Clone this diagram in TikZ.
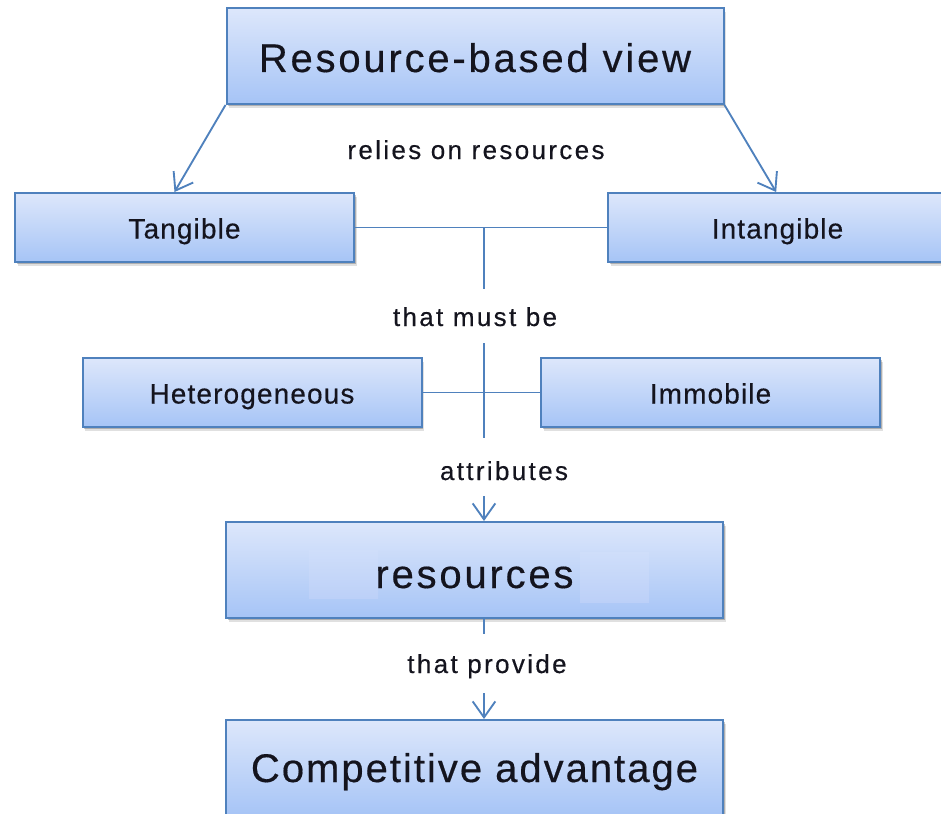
\documentclass[tikz,border=0pt]{standalone}
\usepackage{fontspec}
\setmainfont{Liberation Sans}
\newfontfamily\bigfont[LetterSpace=7,FakeBold=0.4]{Liberation Sans}
\newfontfamily\compfont[LetterSpace=5,FakeBold=0.4]{Liberation Sans}
\newfontfamily\boxfont[LetterSpace=4,FakeBold=0.4]{Liberation Sans}
\newfontfamily\lblfont[LetterSpace=9,FakeBold=0.4]{Liberation Sans}
\usetikzlibrary{arrows.meta,shadows,calc}

% one drawing unit = one pixel of a 941 x 813 canvas
\newdimen\pxu \pxu=0.75pt

\definecolor{boxline}{RGB}{79,129,189}
\definecolor{boxtop}{RGB}{221,231,251}
\definecolor{boxbottom}{RGB}{166,196,246}
\definecolor{patchtop}{RGB}{207,222,250}
\definecolor{patchbottom}{RGB}{188,208,248}
\definecolor{inkc}{RGB}{20,20,30}

\begin{document}
\begin{tikzpicture}[x=0.75pt, y=-0.75pt,
  boxbase/.style={rectangle, draw=boxline, line width=1.5pt,
    top color=boxtop, bottom color=boxbottom, inner sep=0pt, text=inkc,
    drop shadow={shadow xshift=2.2pt, shadow yshift=-3pt, fill=black, opacity=0.12},
    drop shadow={shadow xshift=1.2pt, shadow yshift=-1.8pt, fill=black, opacity=0.22}},
  bigbox/.style={boxbase, minimum width=497\pxu, minimum height=96\pxu,
    font=\bigfont\fontsize{30}{36}\selectfont, text height=24pt, text depth=0pt},
  smallbox/.style={boxbase, minimum width=339\pxu, minimum height=69\pxu,
    font=\boxfont\fontsize{21}{25}\selectfont, text height=16.5pt, text depth=0pt},
  lbl/.style={inner sep=0pt, text=inkc, font=\lblfont\fontsize{19.5}{23}\selectfont, anchor=base},
  conn/.style={draw=boxline, line width=1.4pt},
  arr/.style={conn, -{Straight Barb[length=12pt,width=17pt]}}
]
\path[use as bounding box] (0,0) rectangle (941,813);
\clip (0,0) rectangle (941,813);

% boxes
\node[bigbox] (rbv) at (475,56) {Resource-based view};
\node[smallbox] (tang) at (184.5,227.5) {Tangible};
\node[smallbox] (intang) at (777.5,227.5) {Intangible};
\node[smallbox] (het) at (252,392.5) {Heterogeneous};
\node[smallbox] (imm) at (710.5,392.5) {Immobile};
\node[bigbox, text height=27pt] (res) at (474.5,570) {resources};
\node[bigbox, text height=21pt, font=\compfont\fontsize{30}{36}\selectfont] (comp) at (474.5,768) {Competitive advantage};

% light patches beside the word in the resources box
\shade[top color=patchtop, bottom color=patchbottom] (309,550) rectangle (378,598);
\shade[top color=patchtop, bottom color=patchbottom] (580,552) rectangle (649,602);

% connector labels
\node[lbl] (relies) at (476,159) {relies on resources};
\node[lbl] (mustbe) at (475,326) {that must be};
\node[lbl] (attr) at (504,480) {attributes};
\node[lbl] (provide) at (487,673) {that provide};

% vertical spine and its breaks around the labels
\coordinate (spine) at (484,0);
\coordinate (j1) at (spine |- tang.east);
\coordinate (gap1a) at (484,289);
\coordinate (gap1b) at (484,343);
\coordinate (gap2a) at (484,438);
\coordinate (gap2b) at (484,496);
\coordinate (gap3a) at (484,634);
\coordinate (gap3b) at (484,693);

% connectors
\draw[arr] (rbv.south west) -- ([xshift=-7.5pt]tang.north);
\draw[arr] (rbv.south east) -- ([xshift=-1pt]intang.north);
\draw[conn] (tang.east) -- (intang.west);
\draw[conn] (het.east) -- (imm.west);
\draw[conn] (j1) -- (gap1a);
\draw[conn] (gap1b) -- (gap2a);
\draw[arr] (gap2b) -- (spine |- res.north);
\draw[conn] (spine |- res.south) -- (gap3a);
\draw[arr] (gap3b) -- (spine |- comp.north);
\end{tikzpicture}
\end{document}
